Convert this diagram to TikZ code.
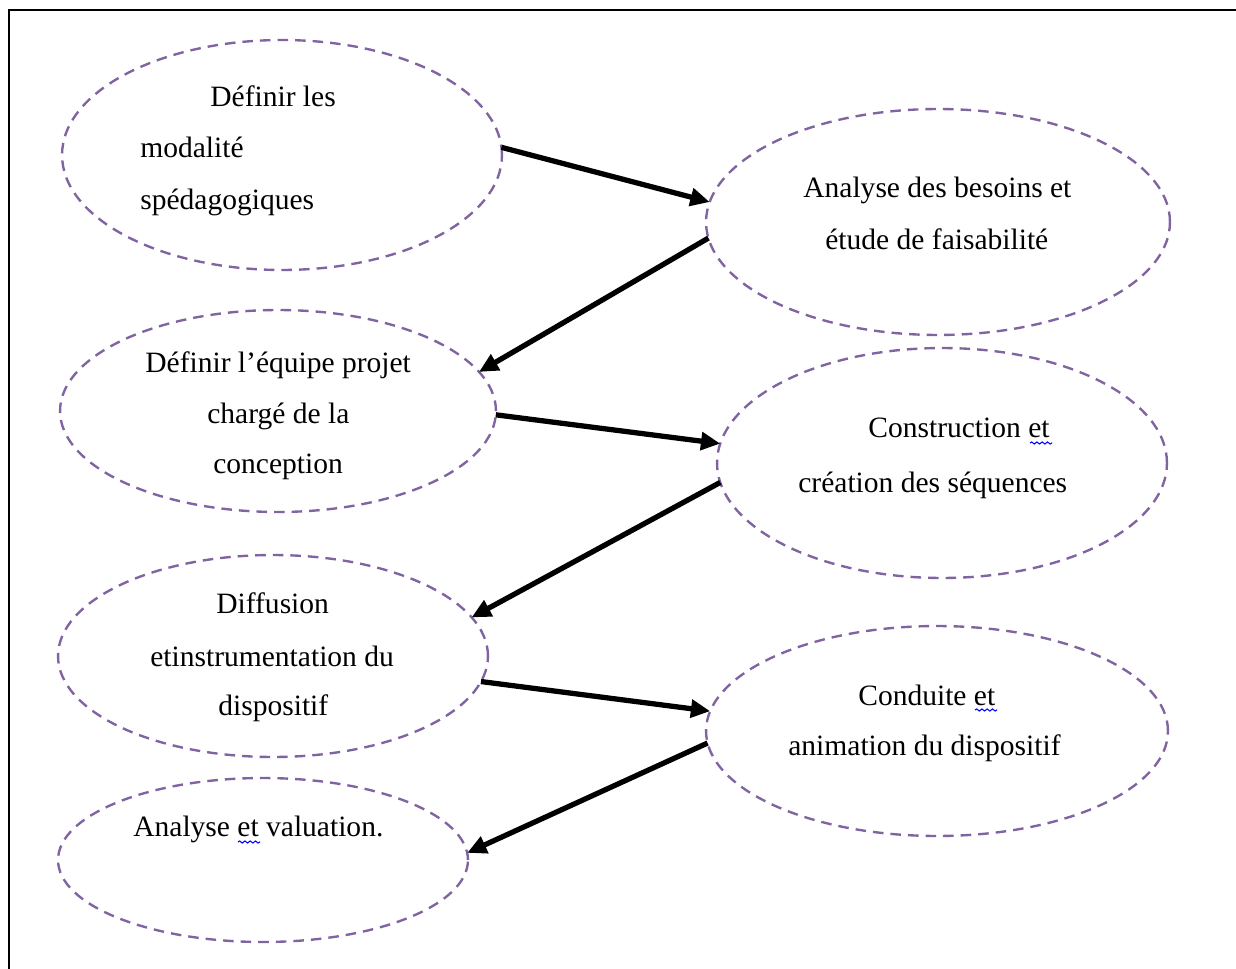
\documentclass[tikz,border=0pt]{standalone}
\usepackage{fontspec}
\setmainfont{Liberation Serif}
\usetikzlibrary{shapes.geometric,arrows.meta,decorations.pathmorphing}
\definecolor{ovalpurple}{HTML}{8064A2}
\begin{document}
\begin{tikzpicture}[x=0.02cm,y=-0.02cm,
  oval/.style={ellipse, draw=ovalpurple, dash pattern=on 6pt off 4pt, line width=1.35pt, inner sep=0pt, outer sep=0pt},
  lbl/.style={anchor=base west, inner sep=0pt, font=\fontsize{16.8}{20}\selectfont},
  flow/.style={line width=3pt, -{Triangle[length=11pt,width=10pt]}},
  squig/.style={draw=blue, line width=0.6pt, decorate, decoration={snake, amplitude=0.6pt, segment length=3pt}},
  frame/.style={draw=black, line width=1.4pt}
]
\useasboundingbox (0,0) rectangle (1236,969);
\fill[white] (0,0) rectangle (1236,969);
\draw[frame] (9,969) -- (9,10) -- (1236,10);

% ovals
\node[oval, minimum width=8.8cm,  minimum height=4.6cm]  (e1) at (282,155) {};
\node[oval, minimum width=9.28cm, minimum height=4.52cm] (e2) at (938,222) {};
\node[oval, minimum width=8.72cm, minimum height=4.04cm] (e3) at (278,411) {};
\node[oval, minimum width=9.0cm,  minimum height=4.6cm]  (e4) at (942,463) {};
\node[oval, minimum width=8.6cm,  minimum height=4.04cm] (e5) at (273,656) {};
\node[oval, minimum width=9.24cm, minimum height=4.2cm]  (e6) at (937,731) {};
\node[oval, minimum width=8.2cm,  minimum height=3.28cm] (e7) at (263,860) {};

% labels
\node[lbl] (t1a) at (210,107) {Définir les};
\node[lbl] (t1b) at (140,158) {modalité};
\node[lbl] (t1c) at (140,210) {spédagogiques};

\node[lbl] (t2a) at (803,198) {Analyse des besoins et};
\node[lbl] (t2b) at (825,250) {étude de faisabilité};

\node[lbl] (t3a) at (145,372) {Définir l’équipe projet};
\node[lbl] (t3b) at (207,423) {chargé de la};
\node[lbl] (t3c) at (213,473) {conception};

\node[lbl] (t4a) at (868,437) {Construction et};
\node[lbl] (t4b) at (798,492) {création des séquences};

\node[lbl] (t5a) at (216,613) {Diffusion};
\node[lbl] (t5b) at (150,666) {etinstrumentation du};
\node[lbl] (t5c) at (218,715) {dispositif};

\node[lbl] (t6a) at (858,705) {Conduite et};
\node[lbl] (t6b) at (788,755) {animation du dispositif};

\node[lbl] (t7a) at (133,836) {Analyse et valuation.};

% spell-check squiggles
\draw[squig] (1030,443) -- (1052,443);
\draw[squig] (975,710) -- (997,710);
\draw[squig] (238,842) -- (260,842);

% connectors
\draw[flow] (e1.2)   -- (e2.175);
\draw[flow] (e2.184) -- (e3.11);
\draw[flow] (e3.-1)  -- (e4.175);
\draw[flow] (e4.185) -- (e5.11);
\draw[flow] (e5.-7)  -- (e6.175);
\draw[flow] (e6.183) -- (e7.2);
\end{tikzpicture}
\end{document}
